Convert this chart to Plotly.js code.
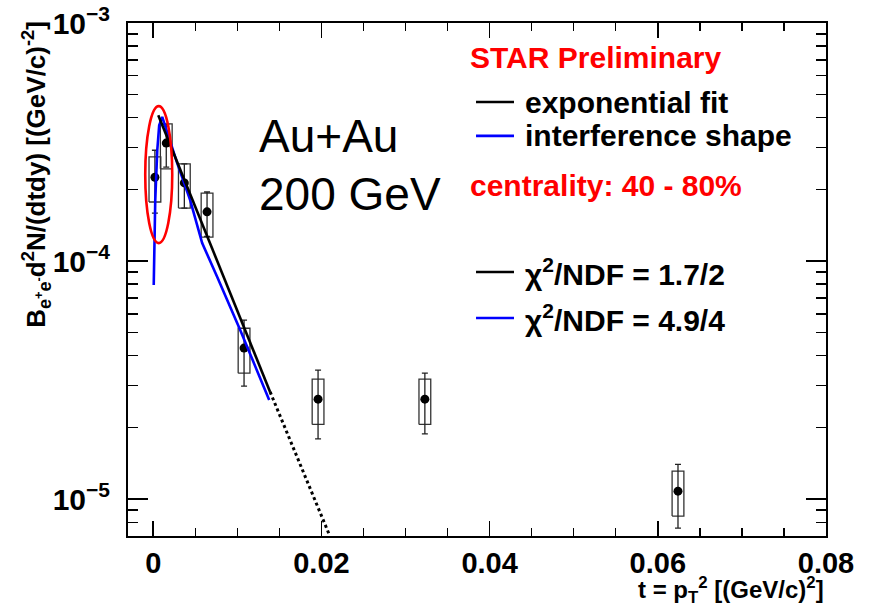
<!DOCTYPE html>
<html>
<head>
<meta charset="utf-8">
<script src="https://cdn.plot.ly/plotly-3.0.1.min.js"></script>
<style>html,body{margin:0;padding:0;background:#fff;}#chart{width:869px;height:609px;}</style>
</head>
<body>
<div id="chart"></div>
<script>
// ---- data ----
const tPts   = [0.0002, 0.00155, 0.0037, 0.0064, 0.0108, 0.0196, 0.0323, 0.0624];
const yPts   = [2.25e-4, 3.13e-4, 2.13e-4, 1.61e-4, 4.31e-5, 2.63e-5, 2.63e-5, 1.08e-5];
const statHi = [2.92e-4, 3.75e-4, 2.56e-4, 1.95e-4, 5.65e-5, 3.48e-5, 3.38e-5, 1.40e-5];
const statLo = [1.59e-4, 2.48e-4, 1.67e-4, 1.27e-4, 2.98e-5, 1.79e-5, 1.88e-5, 7.55e-6];
const sysHi  = [2.74e-4, 3.77e-4, 2.56e-4, 1.93e-4, 5.22e-5, 3.19e-5, 3.19e-5, 1.31e-5];
const sysLo  = [1.77e-4, 2.44e-4, 1.67e-4, 1.26e-4, 3.38e-5, 2.06e-5, 2.06e-5, 8.49e-6];

const expT = [0.0006, 0.0139];
const expY = [4.10e-4, 2.82e-5];
const extT = [0.0139, 0.0210];
const extY = [2.82e-5, 7.0e-6];

const intT = [0.00006, 0.00024, 0.00048, 0.00071, 0.00107, 0.00285, 0.0044, 0.00582, 0.00761, 0.01034, 0.01379];
const intY = [7.93e-5, 1.80e-4, 2.92e-4, 3.72e-4, 4.03e-4, 2.58e-4, 1.80e-4, 1.19e-4, 8.57e-5, 5.13e-5, 2.61e-5];

const xTickVals = [0, 0.02, 0.04, 0.06, 0.08];
const xTickText = ['0', '0.02', '0.04', '0.06', '0.08'];
const yTickVals = [1e-5, 1e-4, 1e-3];
const yTickText = ['10<sup>\u22125</sup>', '10<sup>\u22124</sup>', '10<sup>\u22123</sup>'];
const yMinorVals = [7e-6, 8e-6, 9e-6, 2e-5, 3e-5, 4e-5, 5e-5, 6e-5, 7e-5, 8e-5, 9e-5,
                    2e-4, 3e-4, 4e-4, 5e-4, 6e-4, 7e-4, 8e-4, 9e-4];

// ---- style constants ----
const BOX_HW = 0.0007;
const FONT = 'Liberation Sans, Arial, Helvetica, sans-serif';

// systematic boxes as one closed-path trace
const bx = [], by = [];
tPts.forEach((t, i) => {
  bx.push(t - BOX_HW, t + BOX_HW, t + BOX_HW, t - BOX_HW, t - BOX_HW, null);
  by.push(sysLo[i], sysLo[i], sysHi[i], sysHi[i], sysLo[i], null);
});

const traces = [
  {x: bx, y: by, mode: 'lines', line: {color: '#333', width: 1.3}, hoverinfo: 'skip', showlegend: false},
  {x: tPts, y: yPts, mode: 'markers', marker: {color: '#000', size: 9},
   error_y: {type: 'data', symmetric: false,
             array: statHi.map((v, i) => v - yPts[i]),
             arrayminus: statLo.map((v, i) => yPts[i] - v),
             color: '#222', thickness: 1.3, width: 3},
   showlegend: false},
  {x: extT, y: extY, mode: 'lines', line: {color: '#000', width: 3, dash: 'dot'}, showlegend: false},
  {x: intT, y: intY, mode: 'lines', line: {color: '#0000ff', width: 2.6}, showlegend: false},
  {x: expT, y: expY, mode: 'lines', line: {color: '#000', width: 2.6}, showlegend: false}
];

function txt(text, x, y, size, color, opts) {
  return Object.assign({xref: 'paper', yref: 'paper', x: x, y: y, text: text, showarrow: false,
    xanchor: 'left', yanchor: 'middle', font: {family: FONT, size: size, color: color}}, opts || {});
}
function sample(y, color) {
  return {type: 'line', xref: 'paper', yref: 'paper', x0: 0.4986, x1: 0.553, y0: y, y1: y,
          line: {color: color, width: 2.6}};
}

const layout = {
  width: 869, height: 609,
  margin: {l: 128, r: 43, t: 23, b: 73},
  paper_bgcolor: '#fff', plot_bgcolor: '#fff',
  showlegend: false,
  xaxis: {
    type: 'linear', range: [-0.003, 0.08],
    tickmode: 'array', tickvals: xTickVals, ticktext: xTickText,
    ticks: 'inside', ticklen: 15, tickwidth: 1.5, tickcolor: '#000',
    minor: {dtick: 0.005, ticks: 'inside', ticklen: 8, tickwidth: 1.3, tickcolor: '#000', showgrid: false},
    showline: true, linecolor: '#000', linewidth: 2, mirror: 'allticks',
    showgrid: false, zeroline: false,
    tickfont: {family: FONT, size: 29, color: '#000', weight: 'bold'}
  },
  yaxis: {
    type: 'log', range: [-5.155, -3],
    tickmode: 'array', tickvals: yTickVals, ticktext: yTickText,
    ticks: 'inside', ticklen: 20, tickwidth: 1.5, tickcolor: '#000',
    ticklabelstandoff: 10,
    minor: {tickmode: 'array', tickvals: yMinorVals, ticks: 'inside', ticklen: 10, tickwidth: 1.3, tickcolor: '#000', showgrid: false},
    showline: true, linecolor: '#000', linewidth: 2, mirror: 'allticks',
    showgrid: false, zeroline: false,
    tickfont: {family: FONT, size: 30, color: '#000', weight: 'bold'}
  },
  shapes: [
    {type: 'circle', xref: 'x', yref: 'paper', x0: -0.00095, x1: 0.00226, y0: 0.571, y1: 0.838,
     line: {color: '#ff0000', width: 2.6}},
    sample(0.846, '#000'),
    sample(0.780, '#0000ff'),
    sample(0.5146, '#000'),
    sample(0.425, '#0000ff')
  ],
  annotations: [
    txt('<b>STAR Preliminary</b>', 0.4871, 0.9318, 30, '#ff0000'),
    txt('<b>exponential fit</b>', 0.5659, 0.846, 30, '#000'),
    txt('<b>interference shape</b>', 0.5659, 0.780, 30, '#000'),
    txt('<b>centrality: 40 - 80%</b>', 0.4871, 0.6823, 30, '#ff0000'),
    txt('<b>χ<sup>2</sup>/NDF = 1.7/2</b>', 0.5659, 0.5146, 30, '#000'),
    txt('<b>χ<sup>2</sup>/NDF = 4.9/4</b>', 0.5659, 0.425, 30, '#000'),
    txt('Au+Au', 0.1848, 0.7797, 46, '#000'),
    txt('200 GeV', 0.1848, 0.6667, 46, '#000'),
    txt('<b>B<sub>e<sup>+</sup>e<sup>-</sup></sub>d<sup>2</sup>N/(dtdy) [(GeV/c)<sup>-2</sup>]</b>',
        -0.1318, 0.704, 26, '#000', {xanchor: 'center', textangle: -90}),
    txt('<b>t = p<sub>T</sub><sup>2</sup> [(GeV/c)<sup>2</sup>]</b>', 1.0, -0.106, 24, '#000', {xanchor: 'right'})
  ]
};

Plotly.newPlot('chart', traces, layout, {staticPlot: true, displayModeBar: false});
</script>
</body>
</html>
